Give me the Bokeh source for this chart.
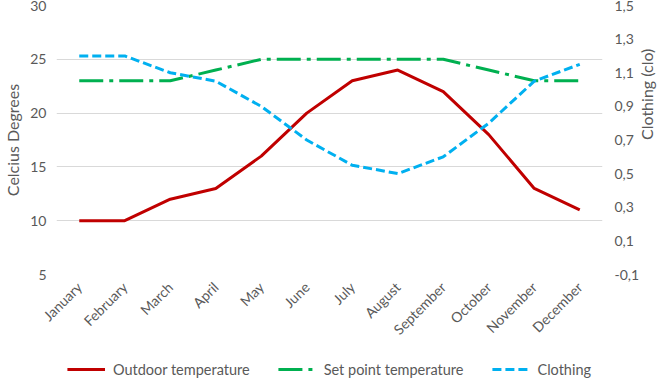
from bokeh.plotting import figure
from bokeh.layouts import column
from bokeh.models import (Range1d, LinearAxis, FixedTicker, CustomJSTickFormatter,
                          Legend, LegendItem, ColumnDataSource, FactorRange)
from bokeh.embed import file_html
from bokeh.resources import INLINE
import math

months = ["January", "February", "March", "April", "May", "June", "July",
          "August", "September", "October", "November", "December"]
outdoor = [10, 10, 12, 13, 16, 20, 23, 24, 22, 18, 13, 11]
setpoint = [23, 23, 23, 24, 25, 25, 25, 25, 25, 24, 23, 23]
clothing = [1.2, 1.2, 1.1, 1.05, 0.9, 0.7, 0.55, 0.5, 0.6, 0.8, 1.05, 1.15]
left_ticks = [5, 10, 15, 20, 25, 30]
right_ticks = [-0.1, 0.1, 0.3, 0.5, 0.7, 0.9, 1.1, 1.3, 1.5]
series_names = ["Outdoor temperature", "Set point temperature", "Clothing"]

FONT = "Lato"
GREY = "#595959"
STYLES = [dict(line_color="#C00000", line_width=3),
          dict(line_color="#00B050", line_width=3, line_dash="24 6 4 6"),
          dict(line_color="#00B0F0", line_width=3, line_dash="9 4")]

src = ColumnDataSource(dict(m=months, o=outdoor, s=setpoint, c=clothing))

p = figure(width=668, height=351, x_range=FactorRange(*months), y_range=Range1d(5, 30),
           output_backend="svg", toolbar_location=None,
           min_border_left=51, min_border_right=62, min_border_top=5, min_border_bottom=77)
p.outline_line_color = None
p.xgrid.grid_line_color = None
p.ygrid.grid_line_color = "#D9D9D9"
p.ygrid.grid_line_width = 1
p.ygrid.ticker = FixedTicker(ticks=left_ticks)

p.extra_y_ranges = {"clo": Range1d(-0.1, 1.5)}

p.line("m", "o", source=src, **STYLES[0])
p.line("m", "s", source=src, **STYLES[1])
p.line("m", "c", source=src, y_range_name="clo", **STYLES[2])

def style(ax):
    ax.axis_line_color = None
    ax.major_tick_line_color = None
    ax.minor_tick_line_color = None
    ax.major_tick_out = 0
    ax.major_tick_in = 0
    ax.minor_tick_out = 0
    ax.minor_tick_in = 0
    ax.major_label_text_font = FONT
    ax.major_label_text_font_size = "14px"
    ax.major_label_text_color = GREY
    ax.axis_label_text_font = FONT
    ax.axis_label_text_font_size = "16px"
    ax.axis_label_text_color = GREY
    ax.axis_label_text_font_style = "normal"

ya = p.yaxis[0]
ya.ticker = FixedTicker(ticks=left_ticks)
ya.axis_label = "Celcius Degrees"
ya.major_label_standoff = 10
ya.axis_label_standoff = 5
style(ya)

ry = LinearAxis(y_range_name="clo", ticker=FixedTicker(ticks=right_ticks),
                axis_label="Clothing (clo)",
                formatter=CustomJSTickFormatter(code="return tick.toFixed(1).replace('.', ',');"))
ry.major_label_standoff = 12
ry.axis_label_standoff = 4
if "axis_label_orientation" in ry.properties():
    ry.axis_label_orientation = math.pi / 2
style(ry)
p.add_layout(ry, "right")

xa = p.xaxis[0]
xa.major_label_orientation = math.pi / 4
xa.major_label_standoff = 10
style(xa)

# legend strip below the chart
lf = figure(width=668, height=28, x_range=Range1d(0, 1), y_range=Range1d(0, 1),
            x_axis_type=None, y_axis_type=None, output_backend="svg", toolbar_location=None,
            min_border_left=0, min_border_right=0, min_border_top=0, min_border_bottom=0)
lf.outline_line_color = None
lf.xgrid.grid_line_color = None
lf.ygrid.grid_line_color = None
items = []
for name, st in zip(series_names, STYLES):
    r = lf.line(x=[float("nan")], y=[float("nan")], **st)
    items.append(LegendItem(label=name, renderers=[r]))
legend = Legend(items=items, orientation="horizontal", location="bottom",
                border_line_color=None, background_fill_alpha=0,
                label_text_font=FONT, label_text_font_size="14.5px", label_text_color=GREY,
                glyph_width=38, label_standoff=8, spacing=28, padding=0, margin=0)
lf.add_layout(legend, "center")

layout = column(p, lf, spacing=0)
open("out.html", "w").write(file_html(layout, INLINE))
